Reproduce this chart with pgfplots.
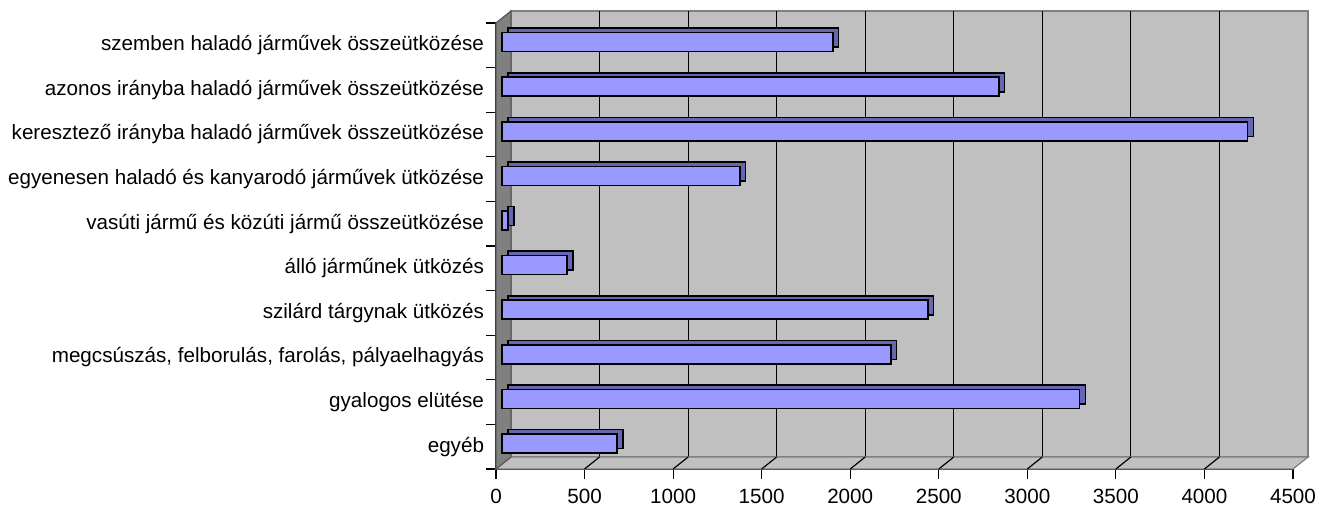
\documentclass[border=0pt]{standalone}
\usepackage{fontspec}
\setmainfont{Liberation Sans}
\usepackage{pgfplots}
\pgfplotsset{compat=1.18}
\definecolor{barfront}{HTML}{9999FF}
\definecolor{bartop}{HTML}{6666B3}
\definecolor{wall}{HTML}{C0C0C0}
\definecolor{sidewall}{HTML}{808080}
\begin{document}
\begin{tikzpicture}
\begin{axis}[
  scale only axis, width=398.5bp, height=223bp,
  xmin=0, xmax=4500, ymin=-0.5, ymax=9.5,
  clip=false,
  axis lines*=left,
  axis line style={black, line width=0.6bp},
  xtick={0,500,...,4500},
  ytick={-0.5,0.5,...,9.5},
  y tick label as interval,
  yticklabels={egyéb, gyalogos elütése, {megcsúszás, felborulás, farolás, pályaelhagyás}, szilárd tárgynak ütközés\ , álló járműnek ütközés, vasúti jármű és közúti jármű összeütközése, egyenesen haladó és kanyarodó járművek ütközése, keresztező irányba haladó járművek összeütközése\ , azonos irányba haladó járművek összeütközése, szemben haladó járművek összeütközése},
  tick align=outside,
  major tick length=5bp,
  tick style={black, line width=0.6bp},
  ticklabel style={font=\fontsize{10.35}{12}\selectfont},
  yticklabel style={inner sep=0pt, xshift=-0.8bp},
  xticklabel style={inner sep=0pt, yshift=-5bp},
  /pgf/number format/assume math mode=true,
  /pgf/number format/1000 sep={},
]
% back wall
\fill[wall, draw=sidewall, line width=0.6bp] (axis cs:84.7,-0.231) rectangle (axis cs:4584.7,9.769);
\pgfplotsinvokeforeach{584.7,1084.7,1584.7,2084.7,2584.7,3084.7,3584.7,4084.7}{
  \draw[black, line width=0.6bp] (axis cs:#1,-0.231) -- (axis cs:#1,9.769);
}
% floor
\fill[wall, draw=sidewall, line width=0.6bp] (axis cs:0,-0.5) -- (axis cs:4500,-0.5) -- (axis cs:4584.7,-0.231) -- (axis cs:84.7,-0.231) -- cycle;
\pgfplotsinvokeforeach{500,1000,1500,2000,2500,3000,3500,4000}{
  \draw[black, line width=0.6bp] (axis cs:#1,-0.5) -- ++(7.5bp,6bp);
}
% left wall
\fill[sidewall, draw=sidewall!70!black, line width=0.6bp] (axis cs:0,-0.5) -- (axis cs:84.7,-0.231) -- (axis cs:84.7,9.769) -- (axis cs:0,9.5) -- cycle;
\coordinate (O) at (axis cs:0,-0.5);
% bars: depth faces
\addplot[xbar, bar shift=0pt, bar width=9.5bp, fill=bartop, draw=black, line width=0.75bp, xshift=5.9bp, yshift=3.8bp] coordinates {
(650,0) (3262,1) (2195,2) (2404,3) (367,4) (35,5) (1343,6) (4210,7) (2805,8) (1868,9)};
% bars: front faces
\addplot[xbar, bar shift=0pt, bar width=9.5bp, fill=barfront, draw=black, line width=0.75bp, xshift=3bp, yshift=1.6bp] coordinates {
(650,0) (3262,1) (2195,2) (2404,3) (367,4) (35,5) (1343,6) (4210,7) (2805,8) (1868,9)};
\end{axis}
\pgfresetboundingbox
\path[use as bounding box] (O) ++(-248bp,-20bp) rectangle ++(664.5bp,254.5bp);
\end{tikzpicture}
\end{document}
